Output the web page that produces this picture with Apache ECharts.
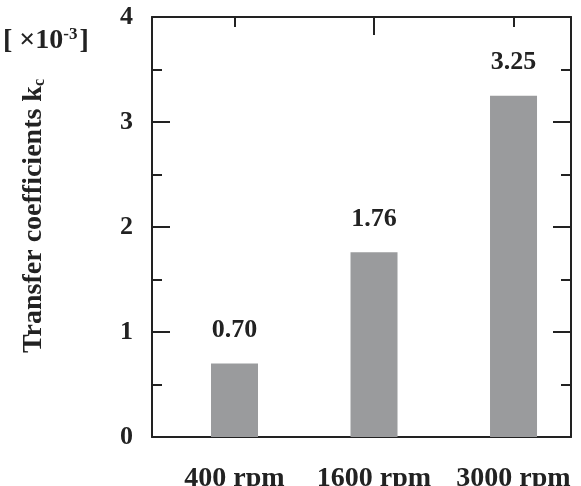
<!DOCTYPE html>
<html>
<head>
<meta charset="utf-8">
<script src="https://cdn.jsdelivr.net/npm/echarts@6/dist/echarts.min.js"></script>
<style>
  html, body { margin: 0; padding: 0; background: #fff; }
  #main { width: 581px; height: 486px; }
</style>
</head>
<body>
<div id="main"></div>
<script type="text/javascript">
var categories = ['400 rpm', '1600 rpm', '3000 rpm'];
var positions = [1, 2, 3];
var kcValues = [0.70, 1.76, 3.25];
var yTicks = [0, 1, 2, 3, 4];

var serif = '"Liberation Serif", "DejaVu Serif", serif';
var ink = '#222';
var xMin = 0.4086, xMax = 3.412;
var yMax = yTicks[yTicks.length - 1];

var myChart = echarts.init(document.getElementById('main'));

var barData = positions.map(function (p, i) { return [p, kcValues[i]]; });

// short ticks hanging from the top frame at each bar, the middle one longer
var topTickSegs = positions.map(function (p, i) {
    var len = (i === 1) ? 0.171 : 0.095;
    return [{ coord: [p, yMax] }, { coord: [p, yMax - len] }];
});

var option = {
    animation: false,
    grid: {
        left: 152, right: 10, top: 17, bottom: 49,
        outerBounds: { left: -200, right: -200, top: -200, bottom: -200 }
    },
    graphic: [
        {
            type: 'text',
            left: 3,
            top: 26,
            style: {
                text: '[ \u00d710{sup|-3}]',
                fontFamily: serif,
                fontWeight: 'bold',
                fontSize: 28,
                fill: ink,
                rich: {
                    sup: { fontFamily: serif, fontWeight: 'bold', fontSize: 17, fill: ink, verticalAlign: 'top', padding: [0, 2, 12, 0] }
                }
            }
        }
    ],
    xAxis: [
        {
            type: 'value',
            position: 'bottom',
            min: xMin,
            max: xMax,
            splitLine: { show: false },
            axisLine: { show: true, onZero: false, lineStyle: { color: ink, width: 2 } },
            axisTick: { show: false },
            axisLabel: {
                customValues: positions,
                formatter: function (v) { return categories[positions.indexOf(v)] || ''; },
                margin: 28,
                color: ink,
                fontFamily: serif,
                fontWeight: 'bold',
                fontSize: 28
            }
        },
        {
            type: 'value',
            position: 'top',
            min: xMin,
            max: xMax,
            splitLine: { show: false },
            axisLine: { show: true, onZero: false, lineStyle: { color: ink, width: 2 } },
            axisTick: { show: false },
            axisLabel: { show: false }
        }
    ],
    yAxis: [
        {
            type: 'value',
            position: 'left',
            min: yTicks[0],
            max: yMax,
            interval: 1,
            splitLine: { show: false },
            axisLine: { show: true, lineStyle: { color: ink, width: 2 } },
            axisTick: { inside: true, length: 18, lineStyle: { color: ink, width: 2 } },
            minorTick: { show: true, splitNumber: 2, length: 10, lineStyle: { color: ink, width: 2 } },
            axisLabel: {
                margin: 19,
                color: ink,
                fontFamily: serif,
                fontWeight: 'bold',
                fontSize: 26
            },
            name: 'Transfer coefficients k{sub|c}',
            nameLocation: 'middle',
            nameRotate: 90,
            nameGap: 104,
            nameTextStyle: {
                color: ink,
                fontFamily: serif,
                fontWeight: 'bold',
                fontSize: 28,
                padding: [0, 0, 0, 22],
                rich: {
                    sub: { fontFamily: serif, fontWeight: 'bold', fontSize: 16, color: ink, verticalAlign: 'bottom', padding: [10, 0, 0, 0] }
                }
            }
        },
        {
            type: 'value',
            position: 'right',
            min: yTicks[0],
            max: yMax,
            interval: 1,
            splitLine: { show: false },
            axisLine: { show: true, lineStyle: { color: ink, width: 2 } },
            axisTick: { inside: true, length: 18, lineStyle: { color: ink, width: 2 } },
            minorTick: { show: true, splitNumber: 2, length: 10, lineStyle: { color: ink, width: 2 } },
            axisLabel: { show: false }
        }
    ],
    series: [
        {
            type: 'bar',
            xAxisIndex: 0,
            yAxisIndex: 0,
            data: barData,
            barWidth: 47,
            itemStyle: { color: '#9a9b9d' },
            label: {
                show: true,
                position: 'top',
                distance: 20,
                formatter: function (p) { return p.value[1].toFixed(2); },
                color: ink,
                fontFamily: serif,
                fontWeight: 'bold',
                fontSize: 26
            },
            markLine: {
                silent: true,
                symbol: ['none', 'none'],
                label: { show: false },
                lineStyle: { type: 'solid', color: ink, width: 2 },
                emphasis: { disabled: true },
                data: topTickSegs
            }
        }
    ]
};

myChart.setOption(option);
</script>
</body>
</html>
